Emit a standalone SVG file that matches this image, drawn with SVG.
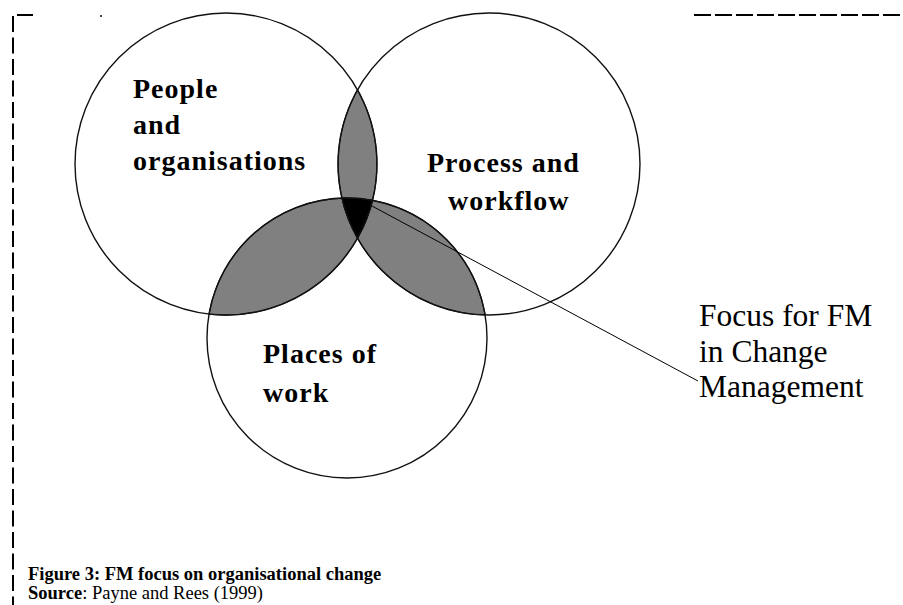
<svg xmlns="http://www.w3.org/2000/svg" width="903" height="605" viewBox="0 0 903 605">
  <style>
    .ring { fill: none; stroke: #111; stroke-width: 1.4; }
    .lens { fill: #808080; stroke: #111; stroke-width: 1.2; }
    .core { fill: #000; stroke: #000; stroke-width: 1; }
    .lbl { font-family: "Liberation Serif", "Times New Roman", serif; font-weight: bold; font-size: 28px; letter-spacing: 1px; fill: #000; }
    .note { font-family: "Liberation Serif", "Times New Roman", serif; font-size: 31.5px; fill: #000; }
    .cap { font-family: "Liberation Serif", "Times New Roman", serif; font-size: 18.5px; fill: #000; }
    .frame { fill: none; stroke: #000; stroke-width: 2; }
    .leader { fill: none; stroke: #000; stroke-width: 1; }
  </style>

  <rect x="0" y="0" width="903" height="605" fill="#fff"/>

  <!-- dashed frame pieces -->
  <g id="frame">
    <line class="frame" x1="13" y1="16" x2="13" y2="605" stroke-dasharray="16 5.5"/>
    <line class="frame" x1="17" y1="15" x2="33" y2="15"/>
    <line class="frame" x1="694" y1="15" x2="903" y2="15" stroke-dasharray="17 4"/>
    <rect x="100" y="15" width="2" height="2" fill="#444"/>
  </g>

  <!-- shaded overlap regions -->
  <g id="overlaps">
    <!-- people ∩ process -->
    <path class="lens" d="M357.5,89.8 A151,151 0 0 0 341.9,198.1 A140,140 0 0 1 372.56,200.36 A151,151 0 0 0 357.5,89.8 Z"/>
    <!-- people ∩ places -->
    <path class="lens" d="M209.06,314.04 A140,140 0 0 1 341.9,198.1 A151,151 0 0 0 357.5,238.2 A151,151 0 0 1 209.06,314.04 Z"/>
    <!-- process ∩ places -->
    <path class="lens" d="M372.56,200.36 A140,140 0 0 1 485.08,314.95 A151,151 0 0 1 357.5,238.2 A151,151 0 0 0 372.56,200.36 Z"/>
    <!-- common core -->
    <path class="core" d="M341.9,198.1 A140,140 0 0 1 372.56,200.36 A151,151 0 0 1 357.5,238.2 A151,151 0 0 1 341.9,198.1 Z"/>
  </g>

  <g id="people">
    <circle class="ring" cx="226" cy="164" r="151"/>
    <text class="lbl" x="133" y="98">People</text>
    <text class="lbl" x="133" y="134">and</text>
    <text class="lbl" x="133" y="170">organisations</text>
  </g>

  <g id="process">
    <circle class="ring" cx="489" cy="164" r="151"/>
    <text class="lbl" x="427" y="172">Process and</text>
    <text class="lbl" x="448" y="210">workflow</text>
  </g>

  <g id="places">
    <circle class="ring" cx="347" cy="338" r="140"/>
    <text class="lbl" x="263" y="363">Places of</text>
    <text class="lbl" x="263" y="402">work</text>
  </g>

  <g id="focus">
    <text class="note" x="699" y="326">Focus for FM</text>
    <text class="note" x="699" y="362">in Change</text>
    <text class="note" x="699" y="397">Management</text>
  </g>

  <g id="connectors">
    <line class="leader" x1="372" y1="206" x2="698" y2="381"/>
  </g>

  <g id="caption">
    <text class="cap" x="28" y="580" font-weight="bold">Figure 3: FM focus on organisational change</text>
    <text class="cap" x="28" y="599"><tspan font-weight="bold">Source</tspan>: Payne and Rees (1999)</text>
  </g>
</svg>
